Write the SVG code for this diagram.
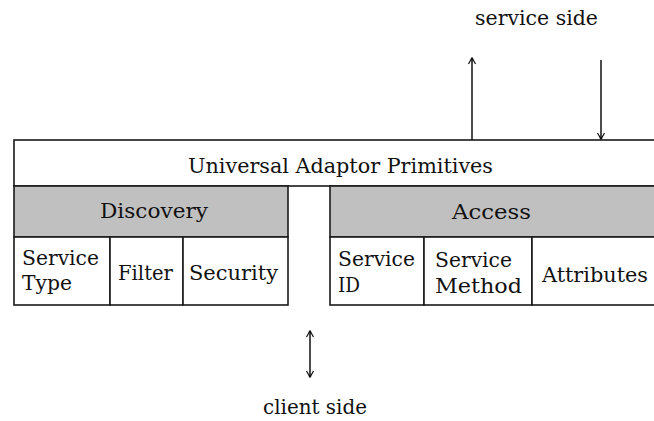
<svg xmlns="http://www.w3.org/2000/svg" width="654" height="421" viewBox="0 0 654 421">
  <style>
    .box { fill: #ffffff; stroke: #1a1a1a; stroke-width: 1.6; }
    .band { fill: #c0c0c0; stroke: #1a1a1a; stroke-width: 1.6; }
    .arrow { stroke: #111111; stroke-width: 1.5; fill: none; }
    .lbl { font-size: 21px; fill: #111111; }
    .mid { text-anchor: middle; }
  </style>
  <defs>
    <!-- open arrowhead, x-axis points along the line -->
    <marker id="head" viewBox="-8 -5 10 10" refX="0" refY="0" markerWidth="10" markerHeight="10" markerUnits="userSpaceOnUse" orient="auto-start-reverse">
      <path d="M-6,-3.5 L0,0 L-6,3.5" stroke="#111111" stroke-width="1.2" fill="none"/>
      <circle cx="-1" cy="0" r="1.3" fill="#111111"/>
    </marker>
  </defs>

  <rect width="654" height="421" fill="#ffffff"/>

  <g font-family="'DejaVu Serif', 'Liberation Serif', serif">
  <!-- Top layer -->
  <g id="primitives">
    <rect class="box" x="14" y="140" width="650" height="46"/>
    <text class="lbl mid" x="340.5" y="173" textLength="305" lengthAdjust="spacingAndGlyphs">Universal Adaptor Primitives</text>
  </g>

  <!-- Discovery block -->
  <g id="discovery">
    <rect class="band" x="14" y="186" width="274" height="51"/>
    <text class="lbl mid" x="154" y="218" textLength="108" lengthAdjust="spacingAndGlyphs">Discovery</text>
  </g>
  <g id="service-type">
    <rect class="box" x="14" y="237" width="96" height="68"/>
    <text class="lbl" x="22" y="265" textLength="77" lengthAdjust="spacingAndGlyphs">Service</text>
    <text class="lbl" x="22" y="290" textLength="50" lengthAdjust="spacingAndGlyphs">Type</text>
  </g>
  <g id="filter">
    <rect class="box" x="110" y="237" width="73" height="68"/>
    <text class="lbl" x="118" y="280" textLength="55" lengthAdjust="spacingAndGlyphs">Filter</text>
  </g>
  <g id="security">
    <rect class="box" x="183" y="237" width="105" height="68"/>
    <text class="lbl" x="189" y="280" textLength="89" lengthAdjust="spacingAndGlyphs">Security</text>
  </g>

  <!-- Access block -->
  <g id="access">
    <rect class="band" x="330" y="186" width="334" height="51"/>
    <text class="lbl mid" x="491.5" y="219" textLength="79" lengthAdjust="spacingAndGlyphs">Access</text>
  </g>
  <g id="service-id">
    <rect class="box" x="330" y="237" width="94" height="68"/>
    <text class="lbl" x="338" y="266" textLength="77" lengthAdjust="spacingAndGlyphs">Service</text>
    <text class="lbl" x="338" y="292" textLength="22" lengthAdjust="spacingAndGlyphs">ID</text>
  </g>
  <g id="service-method">
    <rect class="box" x="424" y="237" width="108" height="68"/>
    <text class="lbl" x="435" y="267" textLength="77" lengthAdjust="spacingAndGlyphs">Service</text>
    <text class="lbl" x="435" y="293" textLength="87" lengthAdjust="spacingAndGlyphs">Method</text>
  </g>
  <g id="attributes">
    <rect class="box" x="532" y="237" width="132" height="68"/>
    <text class="lbl" x="542" y="282" textLength="106" lengthAdjust="spacingAndGlyphs">Attributes</text>
  </g>

  <!-- Side labels -->
  <g id="service-side">
    <text class="lbl mid" x="536.5" y="25" textLength="123" lengthAdjust="spacingAndGlyphs">service side</text>
  </g>
  <g id="client-side">
    <text class="lbl mid" x="315" y="414" textLength="104" lengthAdjust="spacingAndGlyphs">client side</text>
  </g>
  </g>

  <!-- Connectors -->
  <g id="connectors">
    <line class="arrow" x1="472" y1="140" x2="472" y2="58" marker-end="url(#head)"/>
    <line class="arrow" x1="601" y1="60" x2="601" y2="139" marker-end="url(#head)"/>
    <line class="arrow" x1="310" y1="331" x2="310" y2="377" marker-start="url(#head)" marker-end="url(#head)"/>
  </g>
</svg>
